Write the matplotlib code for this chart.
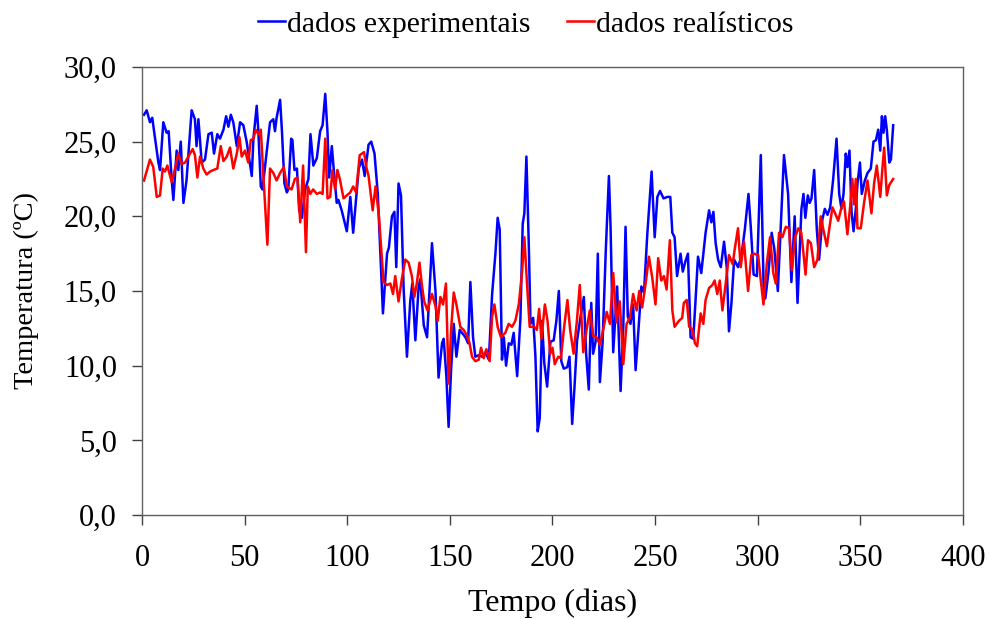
import numpy as np
import matplotlib.pyplot as plt
from matplotlib.ticker import FuncFormatter

# dados experimentais (dia, temperatura)
exp_dias = [1, 2.3, 3.9, 5, 8, 8.8, 10.4, 12, 13, 14.5, 15.3, 16.9, 17.7, 18.9, 20.2, 21.7,
            24.2, 25.8, 26.6, 27.5, 29.1, 30.7, 32.4, 34, 35.1, 36.7, 38, 39.7, 41, 42.1, 43.3,
            44.5, 46.2, 47.8, 49.4, 51, 53.5, 54.3, 55.9, 56.7, 57.9, 58.7, 62.4, 64, 64.8, 65.6,
            67.3, 68.2, 69.4, 70.6, 71.3, 72.7, 73.3, 74.3, 75.5, 76.6, 77.9, 79.5, 81.1, 82.1,
            83.5, 85.2, 86.8, 88, 89.3, 90.4, 91.2, 92.5, 93.7, 94.9, 95.7, 97.3, 99.8, 101.5,
            102.9, 104.5, 105.6, 107.2, 108.5, 110.4, 111.7, 113.3, 114.9, 117.4, 119.4, 120.3,
            121.8, 123, 123.9, 125, 126.2, 127.5, 129.1, 130.7, 131.7, 133.2, 134.8, 135.6, 137.3,
            138.9, 141.3, 143, 144.5, 146.2, 147, 148.3, 149.4, 150.6, 151.9, 153.2, 154.8, 155.9,
            157.6, 158.9, 160, 161.3, 162.4, 164.1, 165.7, 167.3, 169, 170.6, 172.2, 173.3, 174.3,
            175.4, 176.3, 177.4, 178.7, 180, 181.1, 182.8, 184.4, 185.5, 186.3, 187.3, 188.5,
            189.3, 190.6, 191.7, 192.8, 193.8, 194.9, 196, 197.4, 199, 200.6, 201.9, 203.1, 204.3,
            205.5, 207.2, 208.3, 209.6, 210.7, 212, 213.7, 215.3, 216.4, 217.7, 218.9, 219.8, 221,
            222.1, 223.1, 224.4, 226, 227.5, 228.3, 229.6, 231.5, 233.2, 234.5, 235.6, 236.7, 238,
            239.3, 240.5, 242.1, 243.3, 244.6, 246.2, 248.3, 249.8, 251.1, 252.4, 254.1, 256,
            257.4, 258.4, 259.5, 260.7, 262.4, 263.5, 264.8, 266, 267.3, 268.6, 269.8, 270.9,
            272.5, 274.6, 276.3, 277.4, 278.4, 279.5, 280.7, 282, 283.6, 284.9, 286, 287.2, 288.5,
            290.4, 292, 293.7, 295.5, 296.7, 298, 299.6, 301.5, 302.9, 303.7, 305.2, 306.8, 308.1,
            309.8, 311.4, 312.8, 314.8, 316.4, 318, 319.4, 321.3, 322.3, 323.2, 324.4, 325.3,
            326.2, 327.5, 328.8, 329.9, 331.5, 332.7, 334, 335.3, 336.7, 338.4, 339.7, 340.8,
            341.8, 342.9, 343.7, 344.7, 345.7, 346.7, 347.8, 348.6, 349.8, 350.7, 352.2, 353.5,
            355.1, 356.4, 357.6, 358.7, 359.7, 360.5, 361.3, 362.1, 362.9, 364.1, 364.9, 366]
exp_temp = [26.8, 27.1, 26.3, 26.6, 23.6, 23.1, 26.3, 25.6, 25.7, 22.4, 21.1, 24.4, 23.1, 25.0,
            20.9, 22.4, 27.1, 26.5, 24.7, 26.5, 23.6, 23.8, 25.5, 25.6, 24.2, 25.5, 25.2, 25.8,
            26.7, 26.0, 26.8, 26.3, 24.7, 26.3, 26.1, 25.0, 22.7, 25.2, 27.4, 25.7, 22.0, 21.8,
            26.3, 26.5, 25.7, 26.6, 27.8, 25.7, 22.2, 21.6, 21.8, 25.2, 25.1, 23.1, 23.2, 20.4,
            19.9, 21.8, 22.5, 25.5, 23.4, 23.9, 25.7, 26.1, 28.2, 25.6, 22.6, 24.7, 22.7, 20.9,
            21.1, 20.4, 19.0, 21.3, 18.9, 21.5, 23.2, 23.8, 22.7, 24.8, 25.0, 24.2, 21.5, 13.5,
            17.5, 17.9, 20.0, 20.3, 16.6, 22.2, 21.4, 15.1, 10.6, 14.3, 15.5, 11.7, 15.3, 15.8,
            12.7, 11.9, 18.2, 15.0, 9.2, 11.5, 11.8, 9.3, 5.9, 9.7, 12.8, 10.6, 12.4, 12.2, 11.9,
            11.5, 15.6, 11.9, 10.6, 10.7, 10.6, 10.9, 10.4, 14.8, 17.5, 19.9, 19.1, 10.4, 11.9,
            10.0, 11.5, 11.4, 12.2, 9.3, 13.2, 19.5, 20.2, 24.0, 17.9, 12.8, 13.2, 10.6, 5.6, 6.5,
            13.0, 10.2, 8.6, 11.6, 11.7, 13.0, 15.0, 10.3, 9.8, 9.9, 10.6, 6.1, 8.5, 11.7, 13.3,
            14.6, 10.8, 8.4, 14.2, 10.8, 11.6, 17.5, 8.9, 11.5, 17.8, 22.7, 19.3, 10.9, 15.3, 8.3,
            12.6, 19.3, 13.3, 12.8, 14.1, 9.7, 12.8, 15.3, 14.9, 18.8, 23.0, 18.6, 21.3, 21.7, 21.2,
            21.3, 21.3, 18.9, 18.6, 16.0, 17.5, 16.3, 17.0, 17.5, 11.9, 11.8, 14.6, 17.3, 16.2,
            18.9, 20.4, 19.6, 20.3, 18.2, 17.1, 16.6, 18.3, 16.6, 12.3, 14.2, 17.1, 16.6, 17.3,
            19.1, 21.5, 19.1, 16.1, 16.0, 24.1, 15.1, 14.5, 16.2, 18.9, 17.8, 15.0, 19.8, 24.1,
            21.5, 15.6, 20.0, 14.2, 20.5, 21.5, 19.9, 21.4, 20.9, 21.2, 23.1, 19.1, 17.1, 19.8,
            20.5, 20.1, 20.6, 22.4, 25.2, 21.5, 20.5, 21.5, 24.2, 23.3, 24.4, 20.3, 19.0, 20.5,
            22.2, 23.6, 21.5, 22.4, 22.9, 23.2, 25.0, 25.1, 25.8, 24.4, 26.7, 25.6, 26.7, 25.8,
            23.6, 23.8, 26.1]

# dados realísticos (dia, temperatura)
real_dias = [1, 3.9, 5.5, 7.2, 8.8, 10.1, 11.2, 12.4, 13.3, 14.5, 16.1, 17.7, 19.3, 21, 23.4,
             24.7, 25.8, 27, 28.3, 29.9, 31.5, 33.2, 34.8, 36.7, 38.4, 39.7, 41.3, 42.9, 44.5,
             46.2, 47.5, 48.6, 50.2, 51.8, 53, 54.3, 55.4, 56.7, 57.9, 59.2, 61.1, 62.4, 64, 65.6,
             67.3, 69.1, 70.6, 72.9, 74.5, 75.8, 77.1, 78.5, 79.3, 79.9, 80.8, 82, 83.4, 85.2,
             86.8, 88, 89.3, 90.4, 91.7, 92.8, 94.1, 95.2, 96.4, 98.2, 99.8, 101.5, 102.9, 104.3,
             106.1, 107.2, 108.2, 109.3, 110.4, 112.4, 113.8, 115.4, 117.7, 119.4, 121, 122.3,
             123.4, 125, 126.6, 128.3, 129.9, 131.5, 132.7, 133.9, 135.2, 136.3, 137.5, 139.1,
             141.3, 143, 144.1, 145.4, 146.7, 148.1, 149.4, 150.7, 151.9, 153.2, 155.1, 156.7,
             158.4, 159.6, 160.8, 162.4, 164.1, 165.2, 166.5, 167.8, 169.4, 170.6, 171.7, 173.3,
             174.9, 177, 178.7, 180.3, 181.9, 183.6, 185.2, 186.3, 187.6, 188.9, 191.1, 192.4,
             193.5, 194.6, 196.3, 197.6, 198.9, 200, 201.1, 202.8, 204.1, 205.7, 207.3, 208.6,
             210.3, 211.9, 213.3, 215, 216.6, 218.2, 219.8, 221.5, 223.1, 224.7, 226.4, 228,
             229.6, 231.2, 232.8, 234.5, 236.1, 237.7, 239.3, 241, 242.3, 243.7, 245.4, 247,
             248.6, 250.2, 251.5, 253, 254.3, 255.6, 257.2, 258.4, 259.5, 261.6, 263.2, 264,
             265.4, 266.6, 268.3, 269.4, 270.5, 272.2, 273.5, 274.6, 276.3, 277.9, 279, 280.3,
             281.5, 282.8, 284.4, 286, 287.8, 288.9, 290.4, 291.7, 293.3, 295.3, 296.9, 298.2,
             300.2, 301.5, 302.8, 304.4, 306, 307.6, 308.8, 310.4, 312, 313.7, 315.3, 316.6,
             318.2, 319.8, 321.2, 322.3, 323.3, 324.5, 325.9, 327.5, 329.1, 330.7, 332, 333.7,
             335, 336.4, 337.7, 339.2, 340.8, 342, 343.7, 345, 346.1, 346.9, 347.8, 348.6, 350.2,
             351.9, 353.5, 355.4, 356.7, 358, 359.7, 360.8, 361.6, 362.9, 364.1, 366]
real_temp = [22.4, 23.8, 23.3, 21.3, 21.4, 23.2, 23.0, 23.4, 22.9, 22.3, 23.2, 24.2, 23.5, 23.6,
             24.2, 24.5, 24.1, 22.6, 24.0, 23.2, 22.8, 23.0, 23.1, 23.2, 24.7, 23.7, 24.0, 24.6,
             23.2, 24.2, 25.3, 24.0, 24.4, 23.6, 25.1, 25.2, 25.8, 25.5, 25.8, 22.6, 18.1, 23.2,
             22.9, 22.4, 22.9, 23.3, 22.0, 21.8, 22.5, 22.6, 19.6, 23.4, 20.1, 17.6, 22.0, 21.5,
             21.8, 21.5, 21.6, 21.5, 25.2, 21.2, 21.3, 23.1, 21.8, 23.1, 22.5, 21.2, 21.4, 21.6,
             22.0, 21.6, 24.1, 24.2, 24.3, 23.3, 22.7, 20.4, 22.0, 20.1, 15.6, 15.4, 15.5, 14.8,
             16.0, 14.3, 15.8, 17.1, 16.9, 16.0, 14.6, 15.5, 16.9, 15.5, 14.3, 13.7, 14.8, 14.0,
             13.0, 14.6, 14.1, 15.5, 8.8, 12.6, 14.9, 14.1, 12.6, 12.4, 12.0, 11.5, 10.6, 10.3,
             10.4, 11.2, 10.5, 11.1, 10.3, 13.3, 14.1, 12.6, 11.9, 12.2, 12.8, 12.6, 13.0, 14.1,
             16.3, 18.6, 15.5, 12.6, 12.6, 12.4, 13.8, 11.8, 14.1, 13.0, 10.8, 11.2, 10.1, 10.6,
             10.5, 12.6, 14.4, 12.4, 10.8, 13.0, 15.4, 10.9, 12.4, 13.7, 12.0, 11.9, 11.4, 12.4,
             13.6, 12.8, 16.2, 12.9, 14.3, 10.1, 12.8, 13.2, 14.8, 13.7, 15.0, 13.9, 15.5, 17.3,
             15.9, 14.1, 17.2, 15.7, 16.0, 15.1, 18.4, 13.7, 12.6, 13.0, 13.2, 14.2, 14.4, 12.6,
             12.4, 11.5, 11.3, 13.5, 12.8, 14.4, 15.2, 15.4, 15.7, 14.8, 15.7, 13.7, 15.5, 17.4,
             16.8, 17.9, 19.2, 16.6, 18.3, 15.0, 17.4, 17.5, 17.4, 15.7, 14.1, 16.8, 18.6, 16.2,
             15.5, 18.9, 18.6, 19.3, 19.2, 16.4, 18.6, 19.2, 18.9, 17.5, 16.1, 18.4, 18.2, 16.6,
             17.1, 20.0, 19.1, 18.0, 19.3, 20.6, 20.2, 19.7, 20.6, 21.0, 18.8, 20.6, 22.5, 20.8,
             22.5, 19.2, 19.2, 21.0, 22.4, 20.2, 22.2, 23.4, 21.3, 23.3, 24.6, 21.4, 22.1, 22.5]

plt.rcParams['font.family'] = ['Liberation Serif', 'DejaVu Serif']

fig = plt.figure(figsize=(9.9, 6.19), dpi=100)
ax = fig.add_axes([0.1434, 0.168, 0.8293, 0.7238])

ax.plot(exp_dias, exp_temp, color='#0000ff', lw=1.8, label='dados experimentais')
ax.plot(real_dias, real_temp, color='#ff0000', lw=1.8, label='dados realísticos')

ax.set_xlim(0, 400)
ax.set_ylim(0, 30)
ax.set_xticks(np.arange(0, 401, 50))
ax.set_yticks(np.arange(0, 31, 5))
ax.yaxis.set_major_formatter(FuncFormatter(lambda v, p: f'{v:.1f}'.replace('.', ',')))
ax.tick_params(direction='out', length=7, width=1, color='#404040', labelsize=22)
ax.tick_params(axis='x', pad=14)
ax.tick_params(axis='y', pad=11)
for s in ax.spines.values():
    s.set_color('#606060')
    s.set_linewidth(1)

ax.set_xlabel('Tempo (dias)', fontsize=23, labelpad=11)
ax.set_ylabel('Temperatura (ºC)', fontsize=20.5, labelpad=18)

fig.legend(loc='center', bbox_to_anchor=(0.531, 0.961), ncol=2, frameon=False,
           fontsize=21.4, handlelength=0.9, handletextpad=0.05, columnspacing=1.25)

fig.savefig('out.png', dpi=100)
